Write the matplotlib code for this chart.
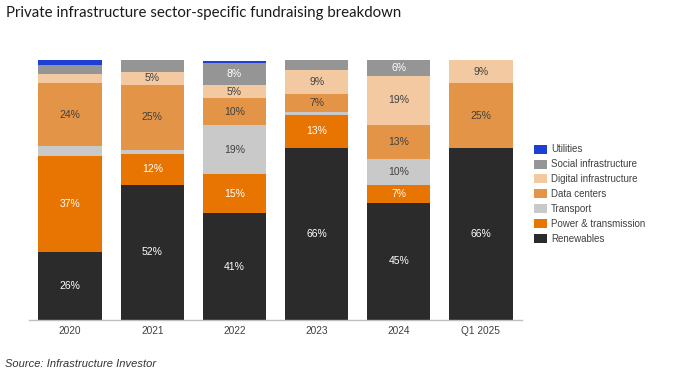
import matplotlib
matplotlib.use('Agg')
import matplotlib.pyplot as plt
import numpy as np

# values (% of fundraising, per year)
years = ['2020', '2021', '2022', '2023', '2024', 'Q1 2025']
renewables = [26, 52, 41, 66, 45, 66]
power = [37, 12, 15, 13, 7, 0]
transport = [4, 1.5, 19, 1, 10, 0]
data_centers = [24, 25, 10.3, 7, 13, 25]
digital = [3.5, 5, 5, 9, 19, 9]
social = [3.5, 4.5, 8.4, 4, 6, 0]
utilities = [2, 0, 0.8, 0, 0.4, 0]

series_names = ['Renewables', 'Power & transmission', 'Transport', 'Data centers',
                'Digital infrastructure', 'Social infrastructure', 'Utilities']
series_vals = [renewables, power, transport, data_centers, digital, social, utilities]
colors = ['#2b2b2b', '#e87502', '#c9c9c9', '#e49446', '#f2c9a0', '#959595', '#1e3fd4']
label_colors = ['white', 'white', '#404040', '#404040', '#404040', 'white', 'white']

plt.rcParams['font.family'] = ['Liberation Sans', 'DejaVu Sans']

fig = plt.figure(figsize=(6.81, 3.83), dpi=100, facecolor='white')
ax = fig.add_axes([29 / 681, 1 - 320 / 383, 493 / 681, 260 / 383])

x = np.arange(len(years))
bottom = np.zeros(len(years))
handles = []
for name, vals, c, lc in zip(series_names, series_vals, colors, label_colors):
    vals = np.array(vals, dtype=float)
    b = ax.bar(x, vals, 0.77, bottom=bottom, color=c, label=name, linewidth=0)
    handles.append(b)
    for xi, v, b0 in zip(x, vals, bottom):
        if v >= 5:
            ax.text(xi, b0 + v / 2, f'{v:.0f}%', ha='center', va='center',
                    fontsize=7.5, color=lc)
    bottom += vals

ax.set_xlim(-0.5, len(years) - 0.5)
ax.set_ylim(0, 100)
ax.set_xticks(x)
ax.set_xticklabels(years, fontsize=7.3, color='#404040')
ax.tick_params(axis='x', length=0, pad=4)
ax.set_yticks([])
for s in ['top', 'right', 'left']:
    ax.spines[s].set_visible(False)
ax.spines['bottom'].set_color('#bfbfbf')
ax.spines['bottom'].set_linewidth(1)

leg = fig.legend(handles[::-1], series_names[::-1], loc='upper left',
                 bbox_to_anchor=(534 / 681, 1 - 144.5 / 383), frameon=False,
                 fontsize=7, handlelength=1.35, handleheight=1.05,
                 labelspacing=0.5, handletextpad=0.4, borderaxespad=0, borderpad=0)
for t in leg.get_texts():
    t.set_color('#404040')

fig.text(6 / 681, 1 - 13 / 383, 'Private infrastructure sector-specific fundraising breakdown',
         fontsize=10.8, color='#1a1a1a', va='center', ha='left', family=['Lato', 'DejaVu Sans'])
fig.text(5 / 681, 1 - 364 / 383, 'Source: Infrastructure Investor', fontsize=8,
         style='italic', color='#333333', va='center', ha='left')

fig.savefig('out.png', dpi=100, facecolor='white')
